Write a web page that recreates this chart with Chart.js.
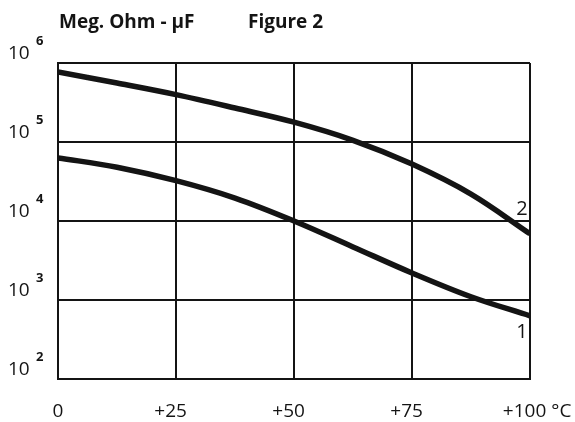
<!DOCTYPE html>
<html>
<head>
<meta charset="utf-8">
<script src="https://cdn.jsdelivr.net/npm/chart.js@4.4.1/dist/chart.umd.min.js"></script>
<style>
  html, body { margin: 0; padding: 0; background: #fff; }
  #wrap { width: 575px; height: 422px; }
</style>
</head>
<body>
<div id="wrap"><canvas id="c" width="575" height="422"></canvas></div>
<script>
// ---- data ----
const temps = [0, 12.5, 25, 37.5, 50, 62.5, 75, 87.5, 100];
const curve1 = [63000, 48000, 32400, 19500, 10000, 4700, 2200, 1100, 630];
const curve2 = [769000, 558000, 398000, 269000, 178000, 105000, 52500, 21900, 6900];
const curveNames = ['1', '2'];
const xTicks = [0, 25, 50, 75, 100];
const xTickLabels = ['0', '+25', '+50', '+75', '+100'];
const xUnit = '°C';
const yTicks = [100, 1000, 10000, 100000, 1000000];
const yExponents = ['2', '3', '4', '5', '6'];
const titleLeft = 'Meg. Ohm - μF';
const titleRight = 'Figure 2';

const INK = '#141414';
const FONT = '"Open Sans", "Noto Sans", sans-serif';

const toPoints = (vals) => temps.map((t, i) => ({ x: t, y: vals[i] }));

const labelsPlugin = {
  id: 'labelsPlugin',
  beforeDraw(chart) {
    const ctx = chart.ctx;
    ctx.save();
    ctx.fillStyle = '#fff';
    ctx.fillRect(0, 0, chart.width, chart.height);
    ctx.restore();
  },
  afterDraw(chart) {
    const ctx = chart.ctx;
    const xs = chart.scales.x, ys = chart.scales.y;
    ctx.save();
    ctx.fillStyle = INK;
    ctx.textBaseline = 'alphabetic';

    // title
    ctx.font = 'bold 19px ' + FONT;
    ctx.textAlign = 'left';
    ctx.fillText(titleLeft, 59, 28);
    ctx.fillText(titleRight, 248, 28);

    // y tick labels 10^n
    yTicks.forEach((v, i) => {
      const py = ys.getPixelForValue(v);
      ctx.font = '19px ' + FONT;
      ctx.textAlign = 'left';
      ctx.fillText('10', 8, py - 4);
      ctx.font = 'bold 13px ' + FONT;
      ctx.fillText(yExponents[i], 36, py - 18);
    });

    // x tick labels
    ctx.font = '19px ' + FONT;
    xTicks.forEach((v, i) => {
      const px = xs.getPixelForValue(v);
      const lab = xTickLabels[i];
      const plus = lab.startsWith('+');
      const digits = plus ? lab.slice(1) : lab;
      const w = ctx.measureText(digits).width;
      ctx.textAlign = 'center';
      ctx.fillText(digits, px, 417);
      if (plus) {
        ctx.textAlign = 'right';
        ctx.fillText('+', px - w / 2, 417);
      }
      if (i === xTicks.length - 1) {
        ctx.textAlign = 'left';
        ctx.fillText(xUnit, px + w / 2 + 5, 417);
      }
    });

    // curve labels
    ctx.font = '20px ' + FONT;
    ctx.textAlign = 'center';
    const last = temps.length - 1;
    const lx = xs.getPixelForValue(temps[last]) - 8;
    ctx.fillText(curveNames[0], lx, ys.getPixelForValue(curve1[last]) + 22);
    ctx.fillText(curveNames[1], lx, ys.getPixelForValue(curve2[last]) - 19);
    ctx.restore();
  }
};

const lineStyle = {
  borderColor: INK,
  borderWidth: 5.5,
  pointRadius: 0,
  fill: false,
  tension: 0.35
};

new Chart(document.getElementById('c'), {
  type: 'line',
  data: {
    datasets: [
      Object.assign({ label: curveNames[0], data: toPoints(curve1) }, lineStyle),
      Object.assign({ label: curveNames[1], data: toPoints(curve2) }, lineStyle)
    ]
  },
  options: {
    responsive: false,
    animation: false,
    devicePixelRatio: 1,
    layout: { padding: { left: 58, right: 45, top: 63, bottom: 43 } },
    plugins: { legend: { display: false }, tooltip: { enabled: false } },
    scales: {
      x: {
        type: 'linear',
        min: 0, max: 100,
        afterBuildTicks: (s) => { s.ticks = xTicks.map(v => ({ value: v })); },
        ticks: { display: false },
        grid: { color: INK, lineWidth: 2, drawTicks: false },
        border: { color: INK, width: 2 }
      },
      y: {
        type: 'logarithmic',
        min: yTicks[0], max: yTicks[yTicks.length - 1],
        afterBuildTicks: (s) => { s.ticks = yTicks.map(v => ({ value: v })); },
        ticks: { display: false },
        grid: { color: INK, lineWidth: 2, drawTicks: false },
        border: { color: INK, width: 2 }
      }
    }
  },
  plugins: [labelsPlugin]
});
</script>
</body>
</html>
